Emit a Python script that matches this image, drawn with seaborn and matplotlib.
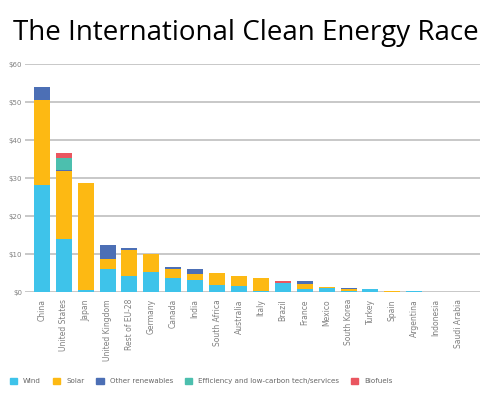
import numpy as np
import pandas as pd
import seaborn as sns
import matplotlib.pyplot as plt
from matplotlib.patches import Patch

sns.set_style('white')

countries = ['China', 'United States', 'Japan', 'United Kingdom',
             'Rest of EU-28', 'Germany', 'Canada', 'India', 'South Africa',
             'Australia', 'Italy', 'Brazil', 'France', 'Mexico',
             'South Korea', 'Turkey', 'Spain', 'Argentina', 'Indonesia',
             'Saudi Arabia']
wind = [28.2, 14.0, 0.5, 6.0, 4.3, 5.3, 3.6, 3.3, 1.8, 1.5,
        0.3, 2.3, 0.8, 1.2, 0.2, 0.7, 0.0, 0.2, 0.0, 0.0]
solar = [22.5, 17.9, 28.1, 2.7, 6.8, 4.8, 2.6, 1.5, 3.1, 2.8,
         3.3, 0.0, 1.4, 0.1, 0.6, 0.0, 0.4, 0.0, 0.0, 0.1]
other = [3.3, 0.3, 0.0, 3.6, 0.4, 0.0, 0.5, 1.2, 0.0, 0.0,
         0.0, 0.1, 0.7, 0.0, 0.2, 0.0, 0.0, 0.0, 0.1, 0.0]
efficiency = [0.0, 3.0, 0.0, 0.0, 0.0, 0.0, 0.0, 0.0, 0.0, 0.0,
              0.0, 0.0, 0.0, 0.0, 0.0, 0.0, 0.0, 0.0, 0.0, 0.0]
biofuels = [0.0, 1.5, 0.0, 0.0, 0.0, 0.0, 0.0, 0.0, 0.0, 0.0,
            0.0, 0.6, 0.0, 0.0, 0.0, 0.0, 0.0, 0.0, 0.0, 0.0]

series = ['Wind', 'Solar', 'Other renewables',
          'Efficiency and low-carbon tech/services', 'Biofuels']
colors = ['#3ec3ea', '#fdb913', '#4c6fb5', '#4cbfae', '#ea5660']

df = pd.DataFrame({'country': countries, 'Wind': wind, 'Solar': solar,
                   'Other renewables': other,
                   'Efficiency and low-carbon tech/services': efficiency,
                   'Biofuels': biofuels})
# cumulative totals, drawn back to front to get stacked bars
cum = df[series].cumsum(axis=1)
cum['country'] = df['country']

fig = plt.figure(figsize=(5, 3.99), dpi=100)
ax = fig.add_axes([0.05, 0.268, 0.91, 0.571])

for name, color in reversed(list(zip(series, colors))):
    sns.barplot(x='country', y=name, data=cum, color=color,
                width=0.73, saturation=1, ax=ax, linewidth=0)

ax.set_xlim(-0.77, 20.0)
ax.set_ylim(0, 60)
ax.set_yticks(range(0, 61, 10))
ax.set_yticklabels(['$%d' % v for v in range(0, 61, 10)])
ax.yaxis.grid(True, color='#c4c4c4', linewidth=1.3)
ax.set_axisbelow(True)
sns.despine(ax=ax, left=True, bottom=True)
ax.set_xlabel('')
ax.set_ylabel('')
ax.tick_params(axis='y', labelsize=5, labelcolor='#808080', length=0, pad=2)
ax.tick_params(axis='x', labelsize=5.5, labelcolor='#808080', length=0,
               pad=5, rotation=90)

fig.text(0.492, 0.917, 'The International Clean Energy Race',
         ha='center', va='center', fontsize=20, family='Open Sans',
         color='black')

handles = [Patch(color=c, label=s) for s, c in zip(series, colors)]
fig.legend(handles=handles, loc='center left', bbox_to_anchor=(0.02, 0.045),
           ncol=5, frameon=False, fontsize=5.1, labelcolor='#666666',
           handlelength=1.0, handleheight=1.0, columnspacing=1.7,
           handletextpad=0.85, borderpad=0, borderaxespad=0)

fig.savefig('out.png', dpi=100)
